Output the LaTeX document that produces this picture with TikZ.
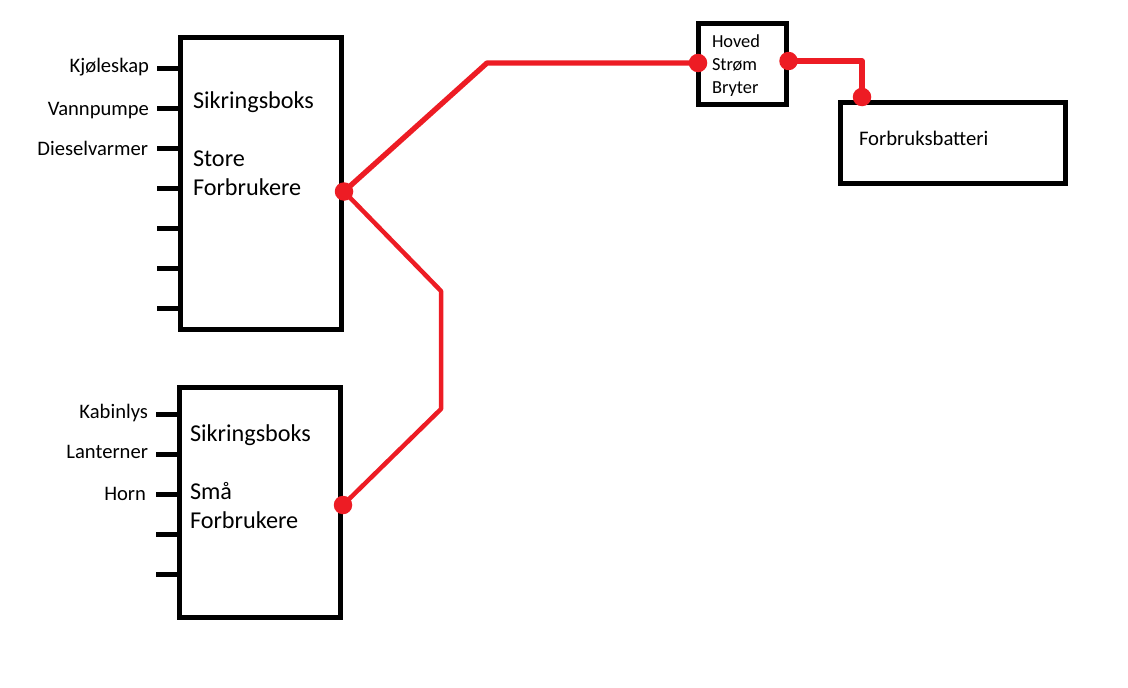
\documentclass[tikz,border=0pt]{standalone}
\usepackage{fontspec}
\setmainfont{Carlito}
\definecolor{wire}{HTML}{ED1C24}

\begin{document}
\begin{tikzpicture}[
  x=1pt, y=-1pt,
  every node/.style={inner sep=0pt, outer sep=0pt},
  box/.style={draw, line width=5.3pt, minimum width=#1},
  stub/.style={line width=5pt},
  redline/.style={draw=wire, line width=5.3pt, line join=round},
  dot/.style={fill=wire, circle, minimum size=18.5pt},
  title/.style={anchor=base west, font=\fontsize{24.2}{29}\selectfont, align=left},
  small/.style={anchor=base west, font=\fontsize{18.4}{23}\selectfont, align=left},
  device/.style={anchor=base east, font=\fontsize{20.6}{23}\selectfont}
]
  \useasboundingbox (0,0) rectangle (1128,688);

  %--- boxes
  \node[box=161pt, minimum height=292pt] (store)   at (261,183.5) {};
  \node[box=161pt, minimum height=230pt] (smaa)    at (260,502.5) {};
  \node[box=88pt,  minimum height=81pt]  (bryter)  at (742.5,64)  {};
  \node[box=225pt, minimum height=81pt]  (batteri) at (953,143)   {};

  %--- texts
  \node[title] (storehead) at (193,108.7) {Sikringsboks};
  \node[title] (storename) at (193,166.7) {Store};
  \node[title] (storeform) at (193,195.3) {Forbrukere};
  \node[title] (smaahead)  at (190,441.7) {Sikringsboks};
  \node[title] (smaaname)  at (190,499.7) {Små};
  \node[title] (smaaform)  at (190,528.7) {Forbrukere};
  \node[small] (hoved)  at (712,47)  {Hoved};
  \node[small] (strom)  at (712,70)  {Strøm};
  \node[small] (bryt)   at (712,93)  {Bryter};
  \node[small, font=\fontsize{20.7}{23}\selectfont] (forbruk) at (859,145) {Forbruksbatteri};

  %--- fuse outputs
  \foreach \y/\b/\r/\name in {68/72/149/Kjøleskap, 108/115/149/Vannpumpe, 148/155/148/Dieselvarmer,
                              188/188/149/, 228/228/149/, 268/268/149/, 308/308/149/} {
    \coordinate (s\y) at (157,\y);
    \draw[stub] (s\y) -- (s\y -| store.west);
    \node[device] (t\y) at (\r,\b) {\name};
  }
  \foreach \y/\b/\r/\name in {414/418/148/Kabinlys, 454/458/148/Lanterner, 494/500/146/Horn,
                              534/534/148/, 574/574/148/} {
    \coordinate (s\y) at (156,\y);
    \draw[stub] (s\y) -- (s\y -| smaa.west);
    \node[device] (t\y) at (\r,\b) {\name};
  }

  %--- connection points
  \node[dot] (storeout)  at (344,191.5) {};
  \node[dot] (smaaout)   at (343,505)   {};
  \node[dot] (brytin)    at (698,63)    {};
  \node[dot] (brytout)   at (788.5,61)  {};
  \node[dot] (batterin)  at (862,97)    {};
  \coordinate (knee1) at (487,63);
  \coordinate (knee2) at (441,291);
  \coordinate (knee3) at (441,409);
  \coordinate (knee4) at (862,61);

  %--- wires
  \draw[redline] (storeout.center) -- (knee1) -- (brytin.center);
  \draw[redline, line width=4.5pt] (storeout.center) -- (knee2) -- (knee3) -- (smaaout.center);
  \draw[redline] (brytout.center) -- (knee4) -- (batterin.center);
\end{tikzpicture}
\end{document}
